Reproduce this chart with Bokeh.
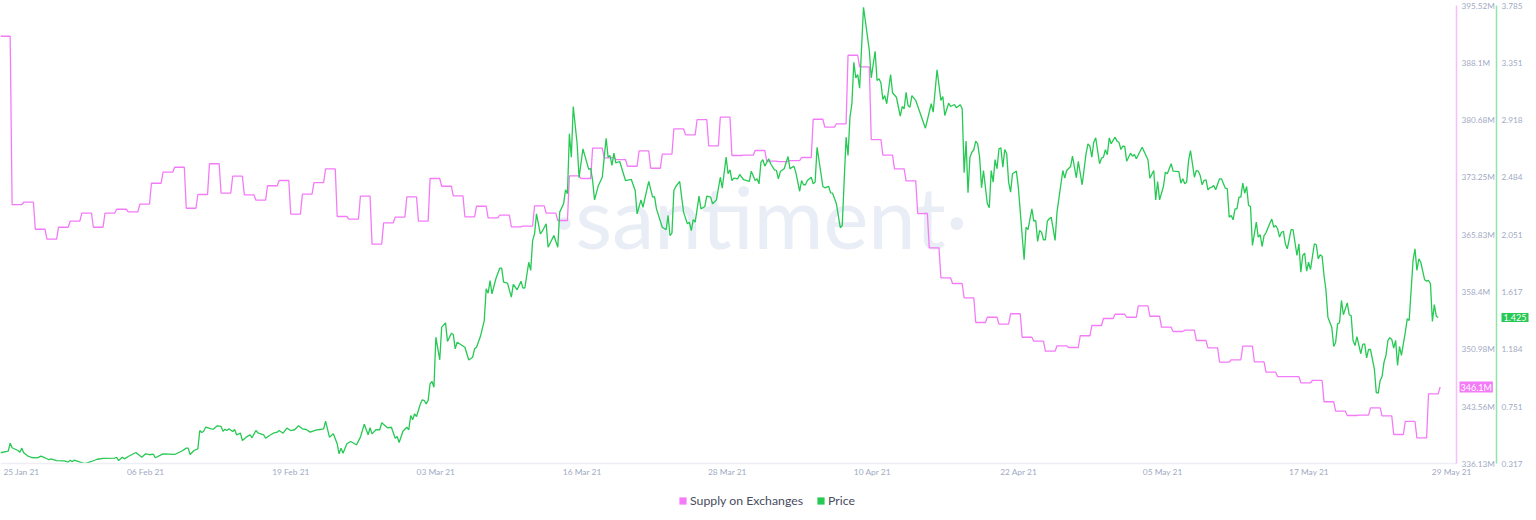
from bokeh.plotting import figure
from bokeh.models import (Range1d, LinearAxis, FixedTicker, Label, Legend, LegendItem)
from bokeh.embed import file_html
from bokeh.resources import INLINE

SUPPLY_NAME = "Supply on Exchanges"
PRICE_NAME = "Price"

# Daily supply on exchanges, in millions, from 25 Jan 21
supply_daily = [
    391.54, 369.74, 370.04, 366.54, 365.25, 366.80, 367.58, 368.62, 366.80, 368.62,
    369.13, 368.80, 369.78, 372.50, 373.93, 374.57, 369.26, 371.04, 375.02, 371.21,
    373.41, 371.00, 370.30, 372.17, 372.85, 368.49, 371.08, 372.59, 374.37, 368.19,
    367.84, 370.82, 364.60, 367.37, 368.12, 370.74, 367.58, 373.11, 372.11, 370.87,
    368.15, 369.52, 368.02, 368.36, 366.85, 366.93, 369.57, 368.62, 367.67, 373.46,
    373.11, 377.04, 375.79, 375.57, 374.70, 376.70, 374.44, 376.26, 379.55, 378.77,
    380.75, 377.35, 381.05, 376.09, 376.13, 376.74, 375.35, 375.31, 375.44, 375.83,
    380.79, 379.76, 380.20, 389.08, 387.58, 378.16, 376.13, 374.37, 372.81, 368.58,
    364.13, 360.25, 359.51, 357.66, 354.46, 355.14, 354.24, 355.59, 352.55, 352.04,
    350.74, 351.44, 351.22, 352.74, 354.07, 354.98, 355.53, 355.14, 356.62, 355.27,
    353.85, 353.29, 353.46, 352.13, 351.18, 349.32, 349.63, 351.39, 349.37, 348.02,
    347.46, 347.46, 346.65, 346.95, 344.19, 342.97, 342.41, 342.45, 343.41, 342.37,
    339.95, 341.64, 339.52, 345.22,
]
supply_last = 346.10

# Price samples: number of four-hour steps since the start, and the price
price_step = [
    0, 4, 5, 6, 9, 10, 11, 12, 14, 16, 19, 21, 23, 25, 26,
    29, 33, 35, 36, 37, 38, 40, 43, 44, 47, 50, 53, 59, 60, 61,
    63, 64, 66, 70, 73, 75, 77, 79, 80, 84, 90, 94, 96, 97, 98,
    100, 102, 103, 104, 105, 106, 109, 110, 112, 114, 115, 116, 117, 118, 120,
    121, 122, 124, 125, 127, 129, 130, 132, 133, 136, 137, 139, 141, 143, 144,
    146, 148, 150, 152, 154, 156, 158, 160, 163, 165, 167, 168, 170, 172, 174,
    175, 176, 177, 179, 181, 183, 184, 186, 188, 190, 191, 192, 194, 196, 197,
    200, 202, 204, 205, 206, 208, 210, 211, 212, 213, 214, 215, 217, 218, 219,
    220, 221, 222, 223, 224, 225, 227, 228, 230, 231, 233, 234, 235, 236, 239,
    240, 242, 244, 245, 246, 248, 250, 251, 252, 253, 254, 256, 258, 259, 260,
    262, 264, 265, 267, 269, 270, 271, 273, 274, 275, 276, 277, 279, 280, 282,
    283, 286, 288, 289, 291, 292, 293, 294, 295, 296, 298, 299, 301, 304, 305,
    306, 307, 309, 311, 312, 313, 314, 315, 316, 317, 318, 320, 323, 326, 328,
    329, 331, 332, 335, 337, 338, 339, 342, 344, 345, 346, 347, 348, 349, 351,
    353, 355, 356, 357, 358, 359, 361, 362, 364, 365, 367, 368, 370, 372, 373,
    375, 376, 377, 378, 379, 381, 382, 384, 387, 388, 390, 391, 392, 393, 394,
    395, 397, 398, 400, 401, 402, 403, 405, 407, 408, 410, 411, 413, 414, 415,
    416, 417, 419, 420, 421, 422, 425, 426, 428, 429, 430, 432, 434, 435, 437,
    438, 439, 440, 441, 442, 443, 444, 446, 449, 450, 452, 453, 454, 455, 456,
    457, 458, 460, 461, 463, 465, 466, 467, 468, 469, 470, 471, 473, 478, 481,
    482, 484, 486, 487, 488, 490, 491, 493, 494, 496, 497, 498, 499, 500, 501,
    502, 503, 504, 505, 506, 507, 508, 510, 511, 512, 513, 514, 515, 516, 517,
    518, 519, 520, 521, 522, 523, 525, 526, 529, 530, 531, 533, 534, 535, 536,
    537, 538, 539, 540, 541, 542, 543, 545, 546, 549, 550, 551, 553, 554, 556,
    557, 559, 561, 562, 563, 564, 565, 566, 568, 569, 570, 571, 572, 573, 574,
    576, 577, 578, 579, 580, 581, 582, 584, 585, 586, 587, 590, 593, 594, 596,
    597, 598, 599, 601, 602, 603, 605, 606, 609, 610, 611, 612, 613, 614, 615,
    617, 618, 619, 620, 621, 622, 623, 624, 625, 626, 627, 628, 630, 631, 633,
    634, 635, 636, 637, 638, 639, 640, 641, 642, 643, 644, 645, 646, 647, 649,
    650, 651, 652, 653, 654, 656, 657, 658, 659, 660, 661, 662, 663, 664, 665,
    667, 668, 670, 671, 672, 673, 674, 675, 676, 677, 679, 680, 681, 682, 683,
    684, 685, 686, 688, 689, 690, 691, 692, 693, 694, 696, 697, 698, 699, 700,
    701, 703, 704, 705, 706, 707, 708, 710, 711, 712, 713, 714, 715, 716, 717,
    718, 719, 720, 721, 722, 723, 724, 726, 727, 728, 730, 731, 732, 733, 734,
    736, 737, 738, 739, 740, 741, 742, 743,
]
price_value = [
    .402, .414, .474, .440, .419, .406, .437, .402, .379, .366, .364, .376, .364, .349, .356,
    .343, .341, .331, .346, .334, .346, .336, .321, .321, .336, .353, .359, .361, .368, .343,
    .368, .356, .374, .404, .368, .394, .387, .391, .364, .394, .389, .417, .437, .437, .389,
    .419, .432, .570, .555, .565, .595, .583, .580, .606, .601, .565, .580, .570, .583, .563,
    .578, .538, .550, .495, .520, .538, .515, .570, .553, .538, .512, .533, .550, .558, .570,
    .550, .588, .570, .576, .606, .583, .578, .558, .573, .578, .583, .641, .520, .545, .470,
    .394, .437, .399, .470, .487, .470, .462, .520, .618, .538, .591, .545, .576, .576, .629,
    .591, .595, .512, .525, .480, .565, .595, .576, .684, .651, .697, .676, .772, .803, .797,
    .772, .797, .924, .941, .898, 1.276, 1.105, 1.352, 1.384, 1.244, 1.306, 1.297, 1.188, 1.238, 1.210,
    1.200, 1.104, 1.125, 1.188, 1.200, 1.281, 1.402, 1.642, 1.609, 1.705, 1.604, 1.718, 1.798, 1.798, 1.692,
    1.685, 1.579, 1.675, 1.635, 1.700, 1.647, 1.650, 1.843, 1.781, 2.008, 2.058, 2.209, 2.058, 2.078, 2.134,
    1.957, 2.045, 1.957, 2.222, 2.285, 2.391, 2.361, 2.815, 2.638, 3.021, 2.739, 2.482, 2.701, 2.545, 2.554,
    2.461, 2.315, 2.424, 2.486, 2.638, 2.781, 2.638, 2.650, 2.575, 2.668, 2.595, 2.605, 2.461, 2.469, 2.386,
    2.209, 2.315, 2.259, 2.454, 2.335, 2.340, 2.247, 2.108, 2.089, 2.197, 2.045, 2.063, 2.386, 2.416, 2.454,
    2.222, 2.134, 2.146, 2.083, 2.166, 2.146, 2.343, 2.247, 2.265, 2.343, 2.335, 2.285, 2.315, 2.486, 2.403,
    2.638, 2.512, 2.542, 2.461, 2.479, 2.474, 2.507, 2.467, 2.454, 2.532, 2.461, 2.474, 2.436, 2.600, 2.618,
    2.570, 2.626, 2.588, 2.542, 2.537, 2.474, 2.529, 2.550, 2.643, 2.550, 2.570, 2.524, 2.380, 2.461, 2.429,
    2.429, 2.461, 2.486, 2.436, 2.449, 2.713, 2.416, 2.406, 2.416, 2.368, 2.365, 2.285, 2.104, 2.121, 2.789,
    2.650, 2.940, 3.042, 3.356, 3.238, 3.263, 3.160, 3.772, 3.445, 3.238, 3.439, 3.218, 3.231, 3.200, 3.074,
    3.104, 3.042, 3.263, 3.125, 3.091, 2.948, 3.021, 3.004, 3.129, 3.029, 3.016, 3.104, 3.067, 2.857, 3.042,
    2.978, 3.299, 3.067, 3.097, 2.953, 3.046, 3.021, 3.036, 3.011, 3.034, 3.004, 2.520, 2.759, 2.368, 2.638,
    2.675, 2.694, 2.759, 2.739, 2.638, 2.406, 2.537, 2.285, 2.255, 2.537, 2.449, 2.620, 2.550, 2.701, 2.709,
    2.562, 2.696, 2.663, 2.449, 2.373, 2.512, 2.532, 2.411, 1.862, 2.108, 2.089, 2.247, 2.154, 2.159, 2.000,
    2.083, 2.070, 2.013, 2.013, 2.154, 2.172, 2.184, 2.008, 2.222, 2.537, 2.479, 2.537, 2.567, 2.645, 2.482,
    2.607, 2.429, 2.663, 2.739, 2.721, 2.638, 2.751, 2.784, 2.588, 2.630, 2.638, 2.694, 2.656, 2.784, 2.739,
    2.789, 2.759, 2.751, 2.696, 2.721, 2.719, 2.607, 2.668, 2.645, 2.658, 2.626, 2.713, 2.618, 2.479, 2.537,
    2.315, 2.454, 2.315, 2.416, 2.524, 2.512, 2.588, 2.532, 2.529, 2.441, 2.474, 2.436, 2.449, 2.613, 2.688,
    2.486, 2.537, 2.532, 2.499, 2.429, 2.461, 2.467, 2.391, 2.406, 2.411, 2.424, 2.391, 2.474, 2.474, 2.403,
    2.399, 2.184, 2.197, 2.164, 2.247, 2.247, 2.335, 2.335, 2.441, 2.365, 2.416, 2.272, 2.265, 1.970, 2.146,
    2.033, 2.051, 1.962, 2.045, 2.066, 2.138, 2.169, 2.108, 2.121, 2.096, 2.033, 2.070, 2.076, 1.983, 1.945,
    2.089, 2.089, 1.894, 1.983, 1.768, 1.894, 1.912, 1.775, 1.843, 1.788, 1.983, 1.975, 1.869, 1.899, 1.889,
    1.743, 1.629, 1.427, 1.352, 1.206, 1.238, 1.377, 1.385, 1.554, 1.446, 1.536, 1.446, 1.440, 1.251, 1.213,
    1.281, 1.151, 1.221, 1.226, 1.120, 1.183, 1.183, 1.037, .856, .853, .949, .979, 1.087, 1.138, 1.251,
    1.272, 1.259, 1.193, 1.251, 1.062, 1.206, 1.138, 1.314, 1.415, 1.402, 1.856, 1.945, 1.781, 1.869, 1.843,
    1.710, 1.700, 1.705, 1.680, 1.395, 1.523, 1.435, 1.425,
]

date_ticks = [1.8, 12.5, 25.0, 37.5, 50.1, 62.6, 75.1, 87.7, 100.1, 112.7, 125.0]
date_labels = ["25 Jan 21", "06 Feb 21", "19 Feb 21", "03 Mar 21", "16 Mar 21", "28 Mar 21",
               "10 Apr 21", "22 Apr 21", "05 May 21", "17 May 21", "29 May 21"]
supply_ticks = [336.13, 343.56, 350.98, 358.4, 365.83, 373.25, 380.68, 388.1, 395.52]
supply_labels = ["336.13M", "343.56M", "350.98M", "358.4M", "365.83M", "373.25M",
                 "380.68M", "388.1M", "395.52M"]
price_ticks = [0.317, 0.751, 1.184, 1.617, 2.051, 2.484, 2.918, 3.351, 3.785]
price_labels = ["0.317", "0.751", "1.184", "1.617", "2.051", "2.484", "2.918", "3.351", "3.785"]

PINK = "#F47BF7"
GREEN = "#26C953"
TICK = "#9FAAC4"
FONT = "Lato"
DAY_END = 125.41        # right end of the time axis
PRICE_AXIS_AT = 128.855
NAN = float("nan")

# The frame fills the canvas; axes sit at fixed places inside it, so that the
# value boxes and the legend beyond the axes are drawn too.
p = figure(width=1536, height=520, output_backend="svg", toolbar_location=None,
           x_range=Range1d(0, 132.30), y_range=Range1d(328.81, 396.17),
           y_axis_location="right",
           min_border_left=0, min_border_right=0, min_border_top=0, min_border_bottom=0)
p.extra_y_ranges = {"price": Range1d(-0.1104, 3.8228)}
p.outline_line_color = None
p.grid.visible = False
p.background_fill_color = "white"
p.border_fill_color = "white"

watermark = Label(x=65.46, y=368.2, text="·santiment·", text_font=FONT, text_font_size="85px",
                  text_color="#E9EDF5", text_align="center", text_baseline="alphabetic", level="underlay")
p.add_layout(watermark)

xaxis = p.xaxis[0]
xaxis.fixed_location = supply_ticks[0]
xaxis.bounds = (0, DAY_END)
xaxis.ticker = FixedTicker(ticks=date_ticks)
xaxis.major_label_overrides = dict(zip(date_ticks, date_labels))
xaxis.axis_line_color = "#EDEFF5"
xaxis.axis_line_width = 1.5
xaxis.major_tick_line_color = None
xaxis.minor_tick_line_color = None
xaxis.major_tick_out = 0
xaxis.major_tick_in = 0
xaxis.major_label_standoff = 3
xaxis.major_label_text_color = TICK
xaxis.major_label_text_font = FONT
xaxis.major_label_text_font_size = "8.4px"


def style_y(ax, ticks, labels, color, at):
    ax.fixed_location = at
    ax.bounds = (ticks[0], ticks[-1])
    ax.ticker = FixedTicker(ticks=ticks)
    ax.major_label_overrides = dict(zip(ticks, labels))
    ax.axis_line_color = color
    ax.axis_line_alpha = 0.5
    ax.axis_line_width = 1.5
    ax.major_tick_line_color = None
    ax.minor_tick_line_color = None
    ax.major_tick_out = 0
    ax.major_tick_in = 0
    ax.major_label_standoff = 5
    ax.major_label_text_color = TICK
    ax.major_label_text_font = FONT
    ax.major_label_text_font_size = "8.2px"


style_y(p.yaxis[0], supply_ticks, supply_labels, PINK, DAY_END)
price_axis = LinearAxis(y_range_name="price")
style_y(price_axis, price_ticks, price_labels, GREEN, PRICE_AXIS_AT)
p.add_layout(price_axis, "right")

supply_x, supply_y = [], []
for k, v in enumerate(supply_daily):
    supply_x += [k, k + 5 / 6]
    supply_y += [v, v]
supply_x.append(len(supply_daily))
supply_y.append(supply_last)

price_x = [s / 6 for s in price_step]

p.line(supply_x, supply_y, line_color=PINK, line_width=1.3)
p.line(price_x, price_value, line_color=GREEN, line_width=1.3, y_range_name="price")

# Legend swatches only: their single row has no position, so nothing is drawn in the plot
supply_swatch = p.quad(left=[NAN], right=[NAN], top=[NAN], bottom=[NAN], fill_color=PINK, line_color=None)
price_swatch = p.quad(left=[NAN], right=[NAN], top=[NAN], bottom=[NAN], fill_color=GREEN, line_color=None)
legend = Legend(items=[LegendItem(label=SUPPLY_NAME, renderers=[supply_swatch]),
                       LegendItem(label=PRICE_NAME, renderers=[price_swatch])],
                orientation="horizontal", location=(678, 12), background_fill_alpha=0,
                border_line_color=None, padding=0, margin=0, spacing=13,
                glyph_width=9, glyph_height=9, label_standoff=3,
                label_text_font=FONT, label_text_font_size="12.3px", label_text_color="#474C60")
p.add_layout(legend)

p.add_layout(Label(x=DAY_END, y=supply_last, x_offset=3, text="346.1M", text_font=FONT, text_font_size="9px",
                   text_color="white", text_align="left", text_baseline="middle",
                   background_fill_color=PINK, padding=dict(x=1, y=0)))
p.add_layout(Label(x=PRICE_AXIS_AT, y=price_value[-1], y_range_name="price", x_offset=5, text="1.425", text_font=FONT,
                   text_font_size="9px", text_color="white", text_align="left", text_baseline="middle",
                   background_fill_color=GREEN, padding=dict(x=2, y=1)))

assert len(price_step) == len(price_value)
open("out.html", "w").write(file_html(p, INLINE))
